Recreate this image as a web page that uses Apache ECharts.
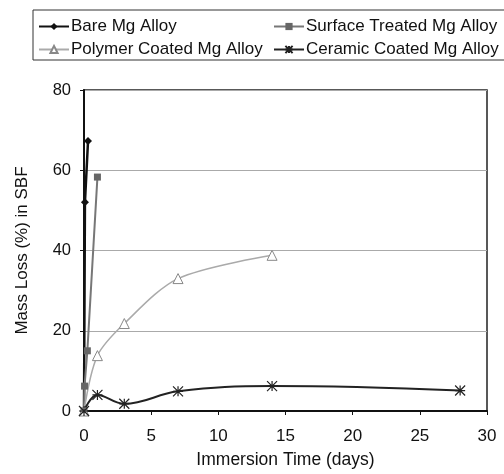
<!DOCTYPE html>
<html>
<head>
<meta charset="utf-8">
<script src="https://cdn.jsdelivr.net/npm/echarts@6/dist/echarts.min.js"></script>
<style>
html, body { margin: 0; padding: 0; background: #fff; }
#chart { width: 504px; height: 474px; }
</style>
</head>
<body>
<div id="chart"></div>
<script>
// values: [days, mass loss %]
const bareData = [[0, 0], [0.07, 52], [0.3, 67.3]]
const surfaceData = [[0, 0], [0.04, 6.2], [0.25, 15], [1, 58.3]]
const polymerData = [[0, 0], [1, 13.8], [3, 21.8], [7, 33], [14, 38.8]]
const ceramicData = [[0, 0], [1, 4], [3, 1.8], [7, 4.9], [14, 6.2], [28, 5.1]]
const seriesNames = ['Bare Mg Alloy', 'Surface Treated Mg Alloy', 'Polymer Coated Mg Alloy', 'Ceramic Coated Mg Alloy']
const xTicks = [0, 5, 10, 15, 20, 25, 30]
const yTicks = [0, 20, 40, 60, 80]

const starPath = 'path://M0,0L10,10M10,0L0,10M5,0L5,10M0,5L10,5'
const font = 'Liberation Sans, Arial, sans-serif'

const chart = echarts.init(document.getElementById('chart'))

const legendBase = {
	orient: 'vertical',
	top: 13,
	itemGap: 6,
	itemWidth: 30,
	itemHeight: 9,
	textStyle: { fontFamily: font, fontSize: 17, color: '#111', padding: [0, 0, 0, -3] }
}

const option = {
	animation: false,
	graphic: [
		{
			type: 'rect',
			shape: { x: 33, y: 10, width: 480, height: 50 },
			style: { fill: 'none', stroke: '#333', lineWidth: 1 }
		}
	],
	legend: [
		Object.assign({}, legendBase, { left: 33, data: [seriesNames[0], seriesNames[2]] }),
		Object.assign({}, legendBase, { left: 268, data: [seriesNames[1], seriesNames[3]] })
	],
	grid: {
		left: 84,
		right: 17,
		top: 90,
		bottom: 63,
		show: true,
		borderColor: '#222',
		borderWidth: 1.5
	},
	xAxis: {
		type: 'value',
		min: xTicks[0],
		max: xTicks[xTicks.length - 1],
		interval: 5,
		name: 'Immersion Time (days)',
		nameLocation: 'middle',
		nameGap: 40,
		nameTextStyle: { fontFamily: font, fontSize: 17.5, color: '#111' },
		axisLine: { lineStyle: { color: '#111', width: 2 } },
		axisTick: { show: true, length: 4, lineStyle: { color: '#111' } },
		axisLabel: { fontFamily: font, fontSize: 17, color: '#111', margin: 17 },
		splitLine: { show: false }
	},
	yAxis: {
		type: 'value',
		min: yTicks[0],
		max: yTicks[yTicks.length - 1],
		interval: 20,
		name: 'Mass Loss (%) in SBF',
		nameLocation: 'middle',
		nameGap: 53,
		nameTextStyle: { fontFamily: font, fontSize: 17, color: '#111' },
		axisLine: { show: true, lineStyle: { color: '#111', width: 2 } },
		axisTick: { show: true, length: 4, lineStyle: { color: '#111' } },
		axisLabel: { fontFamily: font, fontSize: 16.5, color: '#111', margin: 13 },
		splitLine: { show: true, lineStyle: { color: '#aaa', width: 1 } }
	},
	series: [
		{
			name: seriesNames[0],
			type: 'line',
			data: bareData,
			symbol: 'diamond',
			symbolSize: 8,
			itemStyle: { color: '#111' },
			lineStyle: { color: '#111', width: 2.5 }
		},
		{
			name: seriesNames[1],
			type: 'line',
			data: surfaceData,
			symbol: 'rect',
			symbolSize: 7,
			itemStyle: { color: '#666' },
			lineStyle: { color: '#777', width: 2 }
		},
		{
			name: seriesNames[2],
			type: 'line',
			data: polymerData,
			smooth: 0.3,
			symbol: 'triangle',
			symbolSize: 10,
			itemStyle: { color: '#fff', borderColor: '#888', borderWidth: 1 },
			lineStyle: { color: '#aaa', width: 1.5 }
		},
		{
			name: seriesNames[3],
			type: 'line',
			data: ceramicData,
			smooth: 0.4,
			symbol: starPath,
			symbolSize: 10,
			itemStyle: { color: '#222', borderColor: '#222', borderWidth: 1.2 },
			lineStyle: { color: '#222', width: 2 }
		}
	]
}

chart.setOption(option)
</script>
</body>
</html>
